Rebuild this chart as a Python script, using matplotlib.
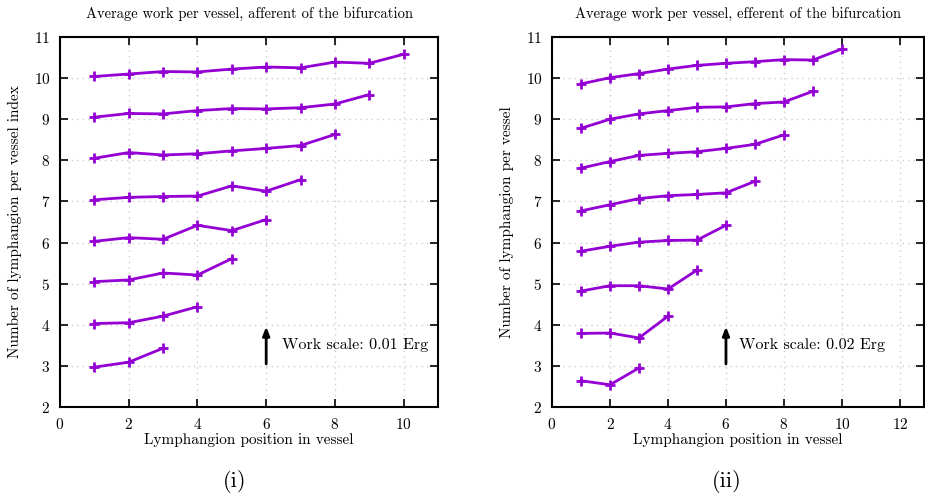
import matplotlib
matplotlib.use("Agg")
import matplotlib.pyplot as plt

plt.rcParams['font.family'] = ['cmr10', 'DejaVu Serif']
plt.rcParams['mathtext.fontset'] = 'cm'
plt.rcParams['axes.formatter.use_mathtext'] = True

# Afferent panel (i): rows indexed 3..10
aff_10 = [10.04, 10.10, 10.16, 10.15, 10.22, 10.27, 10.25, 10.39, 10.36, 10.58]
aff_9 = [9.05, 9.14, 9.13, 9.21, 9.26, 9.25, 9.28, 9.37, 9.60]
aff_8 = [8.05, 8.19, 8.13, 8.16, 8.23, 8.29, 8.36, 8.63]
aff_7 = [7.04, 7.10, 7.12, 7.13, 7.38, 7.25, 7.53]
aff_6 = [6.03, 6.12, 6.08, 6.42, 6.29, 6.56]
aff_5 = [5.05, 5.09, 5.26, 5.21, 5.61]
aff_4 = [4.03, 4.05, 4.21, 4.44]
aff_3 = [2.97, 3.09, 3.43]

# Efferent panel (ii)
eff_10 = [9.86, 10.01, 10.11, 10.22, 10.31, 10.36, 10.40, 10.45, 10.44, 10.71]
eff_9 = [8.78, 9.00, 9.13, 9.21, 9.29, 9.30, 9.38, 9.42, 9.68]
eff_8 = [7.81, 7.97, 8.12, 8.17, 8.21, 8.29, 8.39, 8.62]
eff_7 = [6.77, 6.92, 7.07, 7.14, 7.17, 7.21, 7.49]
eff_6 = [5.79, 5.91, 6.01, 6.05, 6.06, 6.42]
eff_5 = [4.82, 4.95, 4.95, 4.87, 5.33]
eff_4 = [3.79, 3.80, 3.68, 4.21]
eff_3 = [2.64, 2.54, 2.95]

afferent = [aff_3, aff_4, aff_5, aff_6, aff_7, aff_8, aff_9, aff_10]
efferent = [eff_3, eff_4, eff_5, eff_6, eff_7, eff_8, eff_9, eff_10]

titles = ["Average work per vessel, afferent of the bifurcation",
          "Average work per vessel, efferent of the bifurcation"]
ylabels = ["Number of lymphangion per vessel index",
           "Number of lymphangion per vessel"]
xlabel = "Lymphangion position in vessel"
scales = ["Work scale: 0.01 Erg", "Work scale: 0.02 Erg"]
panel_tags = ["(i)", "(ii)"]
xlims = [(0, 11), (0, 12.83)]
xticks = [[0, 2, 4, 6, 8, 10], [0, 2, 4, 6, 8, 10, 12]]
yticks = [2, 3, 4, 5, 6, 7, 8, 9, 10, 11]

fig = plt.figure(figsize=(9.25, 4.98), dpi=100)
axes_pos = [[60/925, 1-407/498, (438-60)/925, (407-37)/498],
            [552/925, 1-407/498, (924-552)/925, (407-37)/498]]
color = '#9400D3'

for k, data in enumerate([afferent, efferent]):
    ax = fig.add_axes(axes_pos[k])
    for row in data:
        xs = list(range(1, len(row) + 1))
        ax.plot(xs, row, color=color, lw=2, marker='+', ms=6.5, mew=2)
    ax.set_xlim(*xlims[k])
    ax.set_ylim(2, 11)
    ax.set_xticks(xticks[k])
    ax.set_yticks(yticks)
    ax.grid(True, color='#cccccc', linestyle=(0, (1, 3)), lw=1)
    ax.tick_params(direction='in', length=6, width=1.2, top=True, right=True,
                   labelsize=11, pad=7, colors='black')
    for s in ax.spines.values():
        s.set_linewidth(1.5)
    ax.set_title(titles[k], fontsize=10.5, pad=14)
    ax.set_xlabel(xlabel, fontsize=11, labelpad=1)
    ax.set_ylabel(ylabels[k], fontsize=11, labelpad=8)
    ax.annotate('', xy=(6, 4.02), xytext=(6, 2.98),
                arrowprops=dict(arrowstyle='-|>,head_width=0.2,head_length=0.5',
                                color='black', lw=2))
    ax.text(6.45, 3.5, scales[k], fontsize=11.5, va='center', ha='left')
    fig.text((235 if k == 0 else 727) / 925, 1 - 481/498, panel_tags[k],
             fontsize=16, ha='center', va='center')

fig.savefig("out.png", dpi=100)
